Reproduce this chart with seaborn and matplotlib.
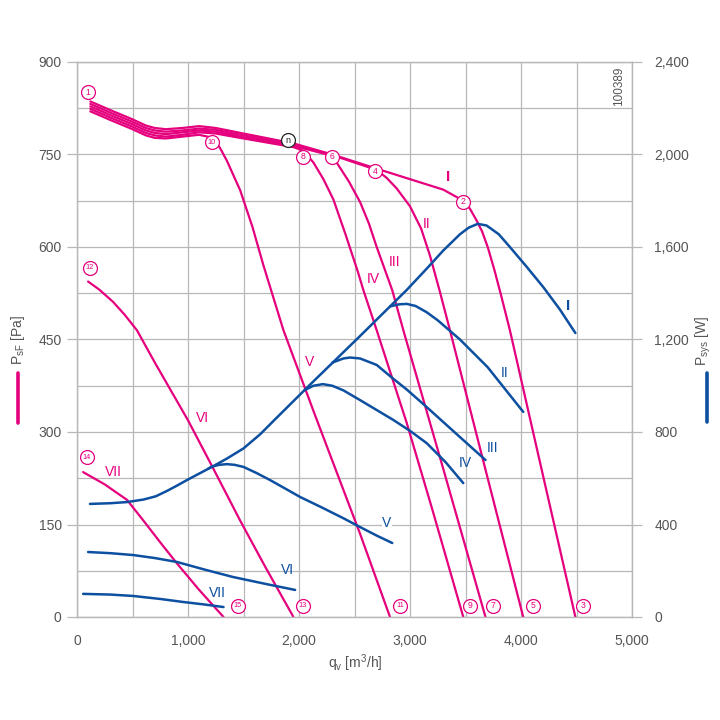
import matplotlib
matplotlib.use('Agg')
import matplotlib.pyplot as plt
import seaborn as sns
from matplotlib.ticker import FuncFormatter, MultipleLocator
from matplotlib.lines import Line2D

# ---------------- data ----------------
# pressure curves (left axis, Pa) vs airflow (m3/h)
p1_x = [120, 300, 500, 620, 700, 800, 950, 1100, 1250, 1500, 1950, 2300, 2700, 3000, 3300, 3480,
        3540, 3600, 3650, 3700, 3760, 3820, 3900, 4200, 4490]
p1_y = [836, 822, 807, 797, 793, 791, 793, 796, 793, 784, 768, 750, 727, 710, 693, 675,
        662, 643, 625, 600, 563, 522, 465, 228, 0]
p2_x = [120, 300, 500, 620, 700, 800, 950, 1100, 1250, 1500, 1950, 2300, 2700, 2790, 2880, 3000,
        3100, 3180, 3270, 3360, 3690, 4020]
p2_y = [832, 818, 803, 793, 789, 787, 789, 792, 790, 781, 766, 749, 725, 712, 695, 666,
        630, 586, 527, 465, 232, 0]
p3_x = [120, 300, 500, 620, 700, 800, 950, 1100, 1250, 1500, 1950, 2300, 2350, 2450, 2550, 2630,
        2700, 2770, 2840, 2940, 3300, 3680]
p3_y = [828, 814, 799, 789, 785, 783, 786, 789, 787, 778, 764, 748, 734, 706, 673, 638,
        600, 565, 530, 465, 240, 0]
p4_x = [120, 300, 500, 620, 700, 800, 950, 1100, 1250, 1500, 1950, 2040, 2130, 2220, 2310, 2420,
        2530, 2580, 2700, 2970, 3200, 3480]
p4_y = [824, 810, 795, 785, 781, 779, 782, 786, 784, 776, 762, 756, 737, 710, 677, 620,
        560, 530, 465, 315, 175, 0]
p5_x = [120, 300, 500, 620, 700, 800, 950, 1100, 1200, 1250, 1290, 1350, 1470, 1580, 1680, 1860,
        2145, 2550, 2820]
p5_y = [820, 806, 791, 781, 777, 776, 779, 782, 778, 771, 760, 740, 692, 633, 570, 465,
        327, 135, 0]
p6_x = [100, 200, 325, 430, 540, 700, 1000, 1230, 1468, 1700, 1950]
p6_y = [544, 531, 511, 490, 465, 413, 319, 240, 157, 80, 0]
p7_x = [55, 250, 450, 600, 750, 900, 1100, 1320]
p7_y = [235, 215, 190, 156, 121, 87, 44, 0]

# power curves (right axis, W)
b1_x = [117, 300, 450, 600, 710, 810, 900, 990, 1100, 1215, 1350, 1500, 1650, 1785, 2100, 2550,
        2970, 3150, 3300, 3450, 3530, 3610, 3690, 3800, 3900, 4050, 4200, 4350, 4490]
b1_y = [489, 492, 497, 508, 522, 545, 568, 592, 620, 649, 685, 729, 790, 855, 1005, 1215,
        1414, 1506, 1585, 1655, 1684, 1700, 1693, 1655, 1600, 1515, 1427, 1330, 1228]
b2_x = [2820, 2900, 2970, 3050, 3150, 3250, 3450, 3700, 4020]
b2_y = [1343, 1352, 1354, 1345, 1318, 1283, 1200, 1080, 887]
b3_x = [2300, 2400, 2460, 2550, 2700, 2850, 2975, 3150, 3450, 3680]
b3_y = [1100, 1118, 1122, 1118, 1090, 1030, 982, 908, 778, 679]
b4_x = [2050, 2130, 2215, 2300, 2400, 2550, 2700, 2850, 3000, 3150, 3320, 3480]
b4_y = [981, 1000, 1007, 1000, 980, 938, 895, 852, 805, 752, 670, 579]
b5_x = [1180, 1215, 1280, 1350, 1420, 1500, 1620, 1740, 1870, 2010, 2200, 2400, 2550, 2700, 2840]
b5_y = [641, 650, 658, 661, 658, 649, 622, 592, 557, 519, 475, 427, 389, 352, 320]
b6_x = [100, 300, 505, 700, 900, 1150, 1405, 1700, 1965]
b6_y = [281, 276, 268, 255, 238, 205, 173, 143, 117]
b7_x = [55, 300, 505, 750, 955, 1150, 1320]
b7_y = [100, 97, 91, 78, 65, 54, 43]

roman = ['I', 'II', 'III', 'IV', 'V', 'VI', 'VII']
pink_lab_x = [3342, 3153, 2865, 2667, 2099, 1135, 324]
pink_lab_y = [713, 637, 576, 548, 413, 323, 235]
blue_lab_x = [4423, 3856, 3748, 3495, 2793, 1900, 1261]
blue_lab_y = [504, 396, 274, 250, 152, 76, 39]

pt_labels = ['1', '2', '3', '4', '5', '6', '7', '8', '9', '10', '11', '12', '13', '14', '15']
pt_x = [99, 3477, 4559, 2685, 4108, 2297, 3748, 2036, 3541, 1216, 2910, 117, 2036, 90, 1450]
pt_y = [851, 673, 18, 723, 18, 746, 18, 746, 18, 770, 18, 566, 18, 259, 18]
n_x, n_y = 1901, 773

x_ticks = [0, 1000, 2000, 3000, 4000, 5000]
left_ticks = [0, 150, 300, 450, 600, 750, 900]
right_ticks = [0, 400, 800, 1200, 1600, 2000, 2400]

# ---------------- style ----------------
sns.set_theme(style='white')
plt.rcParams['font.family'] = ['Liberation Sans', 'DejaVu Sans']
PINK = '#e5007d'
BLUE = '#0d4fa0'
GRID = '#b8b8b8'
TXT = '#555555'

fig = plt.figure(figsize=(7.2, 7.2), dpi=100)
ax = fig.add_axes([77/720, 1-617/720, 555/720, 555/720])
ax.set_xlim(0, 5000)
ax.set_ylim(0, 900)
ax2 = ax.twinx()
ax2.set_ylim(0, 2400)

fmt = FuncFormatter(lambda v, p: f'{int(round(v)):,}')
ax.set_xticks(x_ticks)
ax.xaxis.set_minor_locator(MultipleLocator(500))
ax.set_yticks(left_ticks)
ax.yaxis.set_minor_locator(MultipleLocator(75))
ax.xaxis.set_major_formatter(fmt)
ax.yaxis.set_major_formatter(fmt)
ax2.set_yticks(right_ticks)
ax2.yaxis.set_major_formatter(fmt)
ax.grid(True, which='both', color=GRID, lw=0.9)
ax.set_axisbelow(True)
ax2.grid(False)
for a in (ax, ax2):
    a.tick_params(which='major', length=7, width=0.9, color=GRID, direction='out',
                  labelcolor=TXT, labelsize=10, pad=4)
    a.tick_params(which='minor', length=0)
    for s in a.spines.values():
        s.set_color(GRID)
        s.set_linewidth(0.9)
ax.tick_params(axis='x', pad=5)
ax2.tick_params(axis='y', pad=9)

# pink pressure curves
for xs, ys in [(p1_x, p1_y), (p2_x, p2_y), (p3_x, p3_y), (p4_x, p4_y), (p5_x, p5_y), (p6_x, p6_y), (p7_x, p7_y)]:
    sns.lineplot(x=xs, y=ys, ax=ax, color=PINK, lw=1.6, sort=False, estimator=None)

# blue power curves
for xs, ys in [(b1_x, b1_y), (b2_x, b2_y), (b3_x, b3_y), (b4_x, b4_y), (b5_x, b5_y), (b6_x, b6_y), (b7_x, b7_y)]:
    sns.lineplot(x=xs, y=ys, ax=ax2, color=BLUE, lw=1.8, sort=False, estimator=None)

ax.set_xlabel('')
ax.set_ylabel('')
ax2.set_ylabel('')

# roman labels
for i, r in enumerate(roman):
    ax2.text(pink_lab_x[i], pink_lab_y[i], r, transform=ax.transData, color=PINK,
             fontsize=11 if i == 0 else 10, fontweight='bold' if i == 0 else 'normal',
             ha='center', va='center')
    ax2.text(blue_lab_x[i], blue_lab_y[i], r, transform=ax.transData, color=BLUE,
             fontsize=11 if i == 0 else 10, fontweight='bold' if i == 0 else 'normal',
             ha='center', va='center',
             bbox=dict(boxstyle='square,pad=0.05', fc='white', ec='none') if i == 4 else None)

# circled point numbers
sns.scatterplot(x=pt_x, y=[v * 8 / 3 for v in pt_y], ax=ax2, s=100, color='white',
                edgecolor=PINK, linewidth=0.9, zorder=5)
for s, xv, yv in zip(pt_labels, pt_x, pt_y):
    ax2.text(xv, yv, s, transform=ax.transData, color=PINK, fontsize=6.2 if len(s) == 1 else 5.3,
             ha='center', va='center', zorder=6)
ax2.scatter([n_x], [n_y * 8 / 3], s=100, color='white', edgecolor='#222222', linewidth=0.9, zorder=5)
ax2.text(n_x, n_y, 'n', transform=ax.transData, color='#222222', fontsize=6.5,
         ha='center', va='center', zorder=6)
ax2.set_ylim(0, 2400)

# axis titles
fig.text(355/720, 1-663/720, r'q$_\mathregular{v}$ [m$^\mathregular{3}$/h]', color=TXT,
         fontsize=10, ha='center', va='center')
fig.text(18/720, 1-340/720, r'P$_\mathregular{sF}$ [Pa]', color=TXT, fontsize=10,
         rotation=90, ha='center', va='center')
fig.text(703/720, 1-341/720, r'P$_\mathregular{sys}$ [W]', color=TXT, fontsize=10,
         rotation=90, ha='center', va='center')
fig.add_artist(Line2D([18/720, 18/720], [1-373/720, 1-423/720], color=PINK, lw=2.6,
                      transform=fig.transFigure))
fig.add_artist(Line2D([707/720, 707/720], [1-373/720, 1-422/720], color=BLUE, lw=2.6,
                      transform=fig.transFigure))
fig.text(619/720, 1-86/720, '100389', color=TXT, fontsize=8.5, rotation=90,
         ha='center', va='center', bbox=dict(boxstyle='square,pad=0.15', fc='white', ec='none'))

fig.savefig('out.png', dpi=100, facecolor='white')
